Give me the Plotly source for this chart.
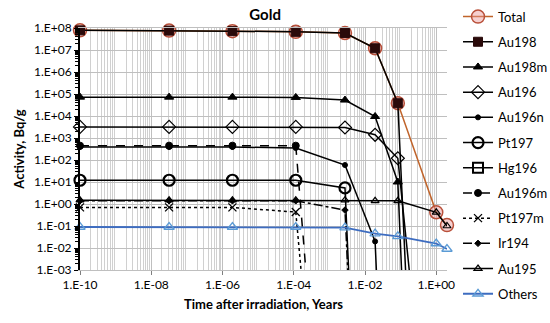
import plotly.graph_objects as go

times = [1e-10, 3.17e-8, 1.9e-6, 1.14e-4, 2.74e-3, 1.92e-2, 8.33e-2, 1.0, 2.0]

total = [7.8e7, 7.6e7, 7.2e7, 6.7e7, 5.9e7, 1.2e7, 3.8e4, 0.42, 0.11]
au198 = [7.8e7, 7.6e7, 7.2e7, 6.7e7, 5.9e7, 1.2e7, 3.8e4, 1e-33, None]
au198m = [7.2e4, 7.2e4, 7.2e4, 7.0e4, 5.3e4, 9.5e3, 10, 1e-40, None]
au196 = [3.2e3, 3.2e3, 3.2e3, 3.2e3, 3.0e3, 1.4e3, 1.2e2, 1e-15, None]
au196n = [3.9e2, 3.9e2, 3.9e2, 3.5e2, 59, 0.02, 1e-25, None, None]
pt197 = [12, 12, 12, 12, 5.4, 1e-30, None, None, None]
hg196 = [None] * 9
au196m = [4.5e2, 4.5e2, 4.5e2, 4.5e2, 1e-25, None, None, None, None]
pt197m = [0.7, 0.7, 0.7, 0.43, 1e-25, None, None, None, None]
ir194 = [1.4, 1.4, 1.4, 1.4, 0.53, 1e-30, None, None, None]
au195 = [1.5, 1.5, 1.5, 1.5, 1.5, 1.4, 1.4, 0.42, 0.1]
others = [0.09, 0.09, 0.09, 0.09, 0.085, 0.045, 0.034, 0.016, 0.009]

x_tick_vals = [1e-10, 1e-8, 1e-6, 1e-4, 1e-2, 1e0]
x_tick_text = ["1.E-10", "1.E-08", "1.E-06", "1.E-04", "1.E-02", "1.E+00"]
y_tick_vals = [1e8, 1e7, 1e6, 1e5, 1e4, 1e3, 1e2, 1e1, 1e0, 1e-1, 1e-2, 1e-3]
y_tick_text = ["1.E+08", "1.E+07", "1.E+06", "1.E+05", "1.E+04", "1.E+03",
               "1.E+02", "1.E+01", "1.E+00", "1.E-01", "1.E-02", "1.E-03"]

FONT = "Lato"

series = [
    # name, values, line color, dash, width, symbol, size, marker color, marker line color, marker line width
    ("Total", total, "#C0642B", "solid", 1.5, "circle", 13, "rgba(235,150,150,0.45)", "#B9503A", 1.5),
    ("Au198", au198, "black", "solid", 1.5, "square", 9, "#2a0a0a", "#2a0a0a", 1),
    ("Au198m", au198m, "black", "solid", 1.5, "triangle-up", 8, "black", "black", 1),
    ("Au196", au196, "black", "solid", 1.5, "diamond-open", 10, "black", "black", 1.2),
    ("Au196n", au196n, "black", "solid", 1.5, "circle", 5, "black", "black", 1),
    ("Pt197", pt197, "black", "solid", 1.5, "circle-open", 11, "black", "black", 2.2),
    ("Hg196", hg196, "black", "solid", 1.5, "square-open", 10, "black", "black", 2),
    ("Au196m", au196m, "black", "dash", 1.5, "circle", 7, "black", "black", 1),
    ("Pt197m", pt197m, "black", "dot", 1.5, "x-thin-open", 8, "black", "black", 1.3),
    ("Ir194", ir194, "black", "dashdot", 1.5, "diamond", 5, "black", "black", 1),
    ("Au195", au195, "black", "solid", 1.5, "triangle-up-open", 7, "black", "black", 1.2),
    ("Others", others, "#3D6CC0", "solid", 1.8, "triangle-up-open", 9, "#5B9BD5", "#5B9BD5", 1.3),
]

fig = go.Figure()
for i, (name, vals, lc, dash, lw, sym, sz, mc, mlc, mlw) in enumerate(series):
    fig.add_trace(go.Scatter(
        x=times, y=vals, name=name, mode="lines+markers",
        line=dict(color=lc, dash=dash, width=lw),
        marker=dict(symbol=sym, size=sz, color=mc, line=dict(color=mlc, width=mlw)),
        cliponaxis=False, legendgroup=name, connectgaps=False,
    ))

minor_x = [m * 10.0 ** e for e in range(-10, 1) for m in range(2, 10)]
minor_y = [m * 10.0 ** e for e in range(-3, 8) for m in range(2, 10)]

fig.update_layout(
    width=550, height=323,
    margin=dict(l=80, r=103, t=28, b=53, autoexpand=False),
    paper_bgcolor="white", plot_bgcolor="white",
    font=dict(family=FONT, size=12, color="black"),
    title=dict(text="<b>Gold</b>", x=0.482, xanchor="center", y=0.953, yanchor="middle",
               font=dict(family=FONT, size=15, color="black")),
    showlegend=True,
    legend=dict(x=1.03, xanchor="left", y=0.995, yref="container", yanchor="top",
                maxheight=400,
                font=dict(family=FONT, size=13, color="black"),
                tracegroupgap=5.3, itemwidth=30, bgcolor="rgba(0,0,0,0)"),
    xaxis=dict(type="log", range=[-10, 0.3015],
               tickvals=x_tick_vals, ticktext=x_tick_text,
               ticks="outside", ticklen=4, tickcolor="#7f7f7f",
               showgrid=True, gridcolor="#BFBFBF", gridwidth=1,
               showline=True, linecolor="#BFBFBF", mirror=True,
               zeroline=False,
               minor=dict(tickvals=minor_x, showgrid=True, gridcolor="#D0D0D0", ticks=""),
               tickfont=dict(family=FONT, size=12),
               title=dict(text="<b>Time after irradiation, Years</b>", standoff=8,
                          font=dict(family=FONT, size=13))),
    yaxis=dict(type="log", range=[-3, 8],
               tickvals=y_tick_vals, ticktext=y_tick_text,
               ticks="outside", ticklen=4, tickcolor="black",
               showgrid=True, gridcolor="#BFBFBF", gridwidth=1,
               showline=True, linecolor="black", linewidth=2, mirror=False,
               zeroline=False,
               minor=dict(tickvals=minor_y, ticks="outside", ticklen=3, tickcolor="black", showgrid=False),
               tickfont=dict(family=FONT, size=12),
               title=dict(text="<b>Activity, Bq/g</b>", standoff=6,
                          font=dict(family=FONT, size=13))),
)

fig.write_html("out.html", config={"displayModeBar": False},
               post_script="document.body.style.margin='0';document.body.style.padding='0';")
